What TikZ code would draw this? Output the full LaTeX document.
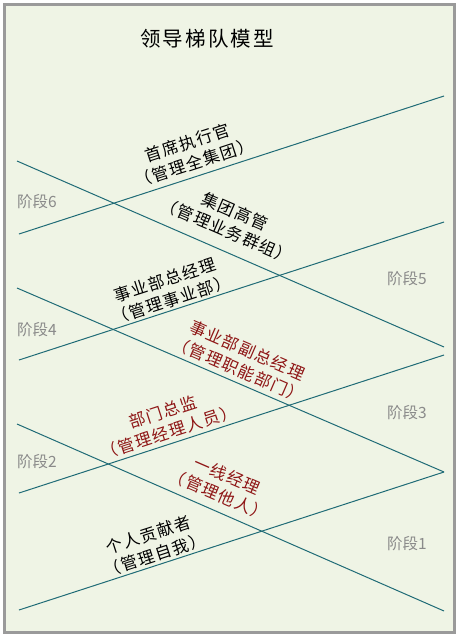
\documentclass[tikz,border=0pt]{standalone}
\usepackage{fontspec}
\newfontfamily\cjk[LetterSpace=8]{Noto Sans CJK SC}
\newfontfamily\cjkplain{Noto Sans CJK SC}
\newfontfamily\cjktitle[LetterSpace=10]{Noto Sans CJK SC}
\definecolor{bgc}{HTML}{EFF4E5}
\definecolor{framec}{HTML}{9A9A9A}
\definecolor{linec}{HTML}{1F6B76}
\definecolor{redc}{HTML}{8E1515}
\definecolor{stagec}{HTML}{8A8A8A}
\tikzset{
  ladder/.style={draw=linec, line width=1pt},
  role/.style={align=center, font=\cjk\fontsize{16.5}{21}\selectfont, inner sep=0pt},
  rolered/.style={role, text=redc},
  stage/.style={font=\cjkplain\fontsize{15.5}{17}\selectfont, text=stagec, inner sep=0pt},
}
\begin{document}
\begin{tikzpicture}[x=1pt,y=-1pt]
\useasboundingbox (0,0) rectangle (463,638);
\fill[white] (0,0) rectangle (463,638);
\draw[fill=bgc, draw=framec, line width=3pt] (4.5,4.5) rectangle (454,632);
% ascending line end points
\coordinate (a1l) at (19,234); \coordinate (a1r) at (444,96);
\coordinate (a2l) at (19,360); \coordinate (a2r) at (444,222);
\coordinate (a3l) at (19,493); \coordinate (a3r) at (444,355);
\coordinate (a4l) at (19,610); \coordinate (a4r) at (444,472);
% descending line end points
\coordinate (d1l) at (17,161); \coordinate (d1r) at (444,347);
\coordinate (d2l) at (17,288); \coordinate (d2r) at (444,472);
\coordinate (d3l) at (17,424); \coordinate (d3r) at (444,611);
\draw[ladder] (a1l) -- (a1r);
\draw[ladder] (a2l) -- (a2r);
\draw[ladder] (a3l) -- (a3r);
\draw[ladder] (a4l) -- (a4r);
\draw[ladder] (d1l) -- (d1r);
\draw[ladder] (d2l) -- (d2r);
\draw[ladder] (d3l) -- (d3r);
% title
\node[font=\cjktitle\fontsize{20.5}{24}\selectfont, inner sep=0pt] (title) at (207,39) {领导梯队模型};
% stages
\node[stage] (s6) at (37,202) {阶段6};
\node[stage] (s5) at (407,279) {阶段5};
\node[stage] (s4) at (37,330) {阶段4};
\node[stage] (s3) at (407,413) {阶段3};
\node[stage] (s2) at (37,462) {阶段2};
\node[stage] (s1) at (407,544) {阶段1};
% roles
\node[role, rotate=18] (r6) at (191,153) {首席执行官\\（管理全集团）};
\node[role, rotate=-23.5] (r5) at (231,221) {集团高管\\（管理业务群组）};
\node[role, rotate=18] (r4) at (168,290) {事业部总经理\\（管理事业部）};
\node[rolered, rotate=-23.5] (r3) at (243,360) {事业部副总经理\\（管理职能部门）};
\node[rolered, rotate=18] (r2) at (166,422) {部门总监\\（管理经理人员）};
\node[rolered, rotate=-23.5] (r1) at (223,485) {一线经理\\（管理他人）};
\node[role, rotate=18] (r0) at (152,545) {个人贡献者\\（管理自我）};
\end{tikzpicture}
\end{document}
